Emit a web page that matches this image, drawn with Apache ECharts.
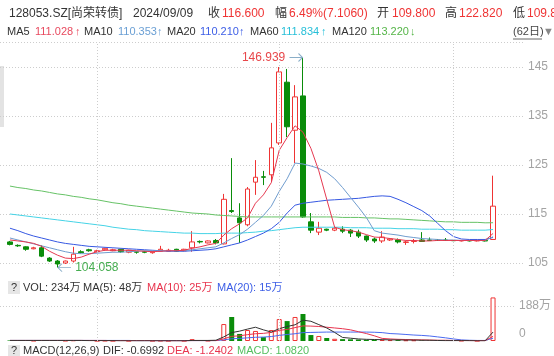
<!DOCTYPE html>
<html><head><meta charset="utf-8">
<script src="https://cdn.jsdelivr.net/npm/echarts/dist/echarts.min.js"></script>
<style>html,body{margin:0;padding:0;background:#fff}#c{width:554px;height:356px}</style>
</head><body><div id="c"></div>
<script>
const dates = [
'2024/06/14','2024/06/17','2024/06/18','2024/06/19','2024/06/20','2024/06/21','2024/06/24','2024/06/25','2024/06/26','2024/06/27','2024/06/28',
'2024/07/01','2024/07/02','2024/07/03','2024/07/04','2024/07/05','2024/07/08','2024/07/09','2024/07/10','2024/07/11','2024/07/12',
'2024/07/15','2024/07/16','2024/07/17','2024/07/18','2024/07/19','2024/07/22','2024/07/23','2024/07/24','2024/07/25','2024/07/26',
'2024/07/29','2024/07/30','2024/07/31',
'2024/08/01','2024/08/02','2024/08/05','2024/08/06','2024/08/07','2024/08/08','2024/08/09','2024/08/12','2024/08/13','2024/08/14',
'2024/08/15','2024/08/16','2024/08/19','2024/08/20','2024/08/21','2024/08/22','2024/08/23','2024/08/26','2024/08/27','2024/08/28',
'2024/08/29','2024/08/30',
'2024/09/02','2024/09/03','2024/09/04','2024/09/05','2024/09/06','2024/09/09'];
const opens  = [109.3,108.6,108.3,107.9,108.1,106.0,105.4,105.0,105.4,107.3,107.7,107.3,107.7,107.5,107.8,107.2,107.3,107.3,107.1,107.4,107.4,107.8,107.5,108.1,109.4,109.1,109.6,108.9,115.7,114.2,112.8,121.5,122.6,123.0,129.5,141.9,132.1,139.1,113.4,111.3,111.9,111.7,111.9,111.7,111.3,110.5,109.9,109.5,109.7,109.7,109.2,109.4,109.7,109.7,109.7,109.7,109.6,109.5,109.6,109.5,109.6,109.8];
const closes = [108.8,108.5,107.8,108.1,106.4,105.4,104.8,105.4,106.8,107.1,107.5,107.5,108.0,107.7,107.3,107.6,107.2,107.2,107.3,107.8,107.6,107.4,107.8,109.3,109.3,109.5,109.1,118.0,115.5,113.2,120.1,122.5,122.5,128.5,144.0,132.8,138.9,114.4,111.7,112.1,111.7,112.1,111.5,111.1,110.5,109.7,109.5,110.3,109.9,109.3,109.3,109.5,109.4,109.6,109.6,109.6,109.55,109.6,109.5,109.6,109.494,116.6];
const lows   = [108.6,108.3,107.5,107.8,106.2,105.2,104.058,104.8,105.1,106.9,107.3,107.2,107.5,107.4,107.1,107.0,106.9,107.0,106.9,107.3,107.3,107.3,107.4,107.3,109.0,109.0,108.8,108.8,115.2,109.1,112.5,118.9,120.9,121.5,129.1,130.7,125.4,114.2,111.1,110.7,111.5,111.5,111.1,110.3,110.1,109.3,109.1,109.1,109.5,109.0,108.7,109.0,109.3,109.5,109.5,109.5,109.5,109.4,109.4,109.4,109.4,109.8];
const highs  = [109.5,108.8,108.4,108.3,108.6,106.2,105.6,105.5,108.3,107.6,107.9,107.7,108.1,107.9,107.9,107.7,107.4,107.5,107.4,108.5,107.9,107.9,107.9,111.5,109.6,109.6,109.9,119.1,126.4,117.2,120.5,126.0,123.8,133.6,145.0,144.6,141.3,146.939,115.2,113.4,112.0,112.4,112.5,111.9,111.8,110.6,110.2,111.5,110.1,110.0,109.5,109.9,111.3,110.2,109.9,110.1,109.8,109.7,109.7,109.8,109.7,122.82];

const ma5   = [109.7,109.5,109.3,109.0,108.4,107.4,106.6,106.0,105.9,106.2,106.8,107.3,107.6,107.6,107.6,107.6,107.5,107.4,107.3,107.4,107.5,107.5,107.6,108.0,108.3,108.7,109.0,110.7,112.0,113.0,114.2,117.2,118.9,121.4,128.0,130.6,133.0,131.7,128.4,123.8,118.0,112.3,111.8,111.6,111.3,110.8,110.3,110.2,110.0,109.8,109.6,109.6,109.5,109.5,109.6,109.6,109.6,109.6,109.6,109.6,109.6,111.028];
const ma10  = [110.1,109.7,109.3,108.9,108.5,108.1,107.7,107.3,107.0,106.9,106.9,107.0,107.1,107.2,107.2,107.3,107.4,107.5,107.5,107.5,107.5,107.5,107.5,107.7,107.9,108.1,108.3,109.1,110.0,110.8,111.9,113.3,114.7,116.6,119.6,122.2,125.4,125.2,124.8,124.3,123.5,122.2,120.4,118.4,116.4,114.3,111.6,111.1,110.9,110.7,110.4,110.2,110.0,109.9,109.8,109.7,109.7,109.6,109.6,109.6,109.6,110.353];
const ma20  = [112.1,111.6,111.0,110.5,110.1,109.7,109.3,109.0,108.8,108.6,108.4,108.3,108.2,108.1,108.0,107.9,107.8,107.7,107.6,107.5,107.4,107.4,107.4,107.5,107.6,107.7,107.9,108.3,108.7,109.1,109.7,110.4,111.1,112.0,113.3,115.2,116.8,117.2,117.4,117.6,117.8,117.9,118.0,118.1,118.2,118.4,118.6,118.7,118.6,118.0,117.3,116.5,115.7,114.6,113.1,111.6,110.4,109.9,109.8,109.8,109.8,110.21];
const ma60  = [115.0,114.8,114.6,114.4,114.2,114.0,113.8,113.6,113.4,113.2,113.0,112.8,112.6,112.3,112.1,111.9,111.8,111.6,111.5,111.4,111.3,111.2,111.1,111.1,111.0,111.0,111.0,111.1,111.1,111.1,111.2,111.3,111.5,111.6,111.8,112.0,112.2,112.3,112.3,112.3,112.3,112.3,112.3,112.2,112.2,112.2,112.1,112.1,112.1,112.0,112.0,112.0,111.9,111.9,111.9,111.8,111.8,111.7,111.7,111.7,111.7,111.834];
const ma120 = [120.7,120.4,120.2,119.9,119.7,119.4,119.1,118.9,118.6,118.4,118.1,117.9,117.6,117.3,117.1,116.8,116.6,116.4,116.2,116.0,115.8,115.6,115.4,115.2,115.1,115.0,114.8,114.7,114.6,114.5,114.4,114.4,114.4,114.4,114.4,114.4,114.4,114.4,114.4,114.4,114.4,114.4,114.3,114.3,114.3,114.2,114.2,114.1,114.0,114.0,113.9,113.8,113.7,113.6,113.5,113.4,113.4,113.3,113.3,113.3,113.2,113.22];

// volumes in 万
const volumes = [3,2,2,2,4,3,4,2,4,2,1,1,2,1,1,1,1,1,1,2,1,1,1,10,2,2,3,91,129,38,59,54,21,59,118,107,129,145,32,27,16,12,10,9,8,7,6,6,5,5,4,4,3,2,2,2,1,2,1,1,1,234];
const volMa5  = [3,3,3,3,3,3,3,3,3,3,2,2,2,2,1,1,1,1,1,1,1,1,1,3,3,3,4,22,45,53,64,74,60,48,66,78,87,112,106,88,70,46,19,15,11,9,8,7,6,6,5,5,4,4,3,2,2,2,2,1,1,48];
const volMa10 = [3,3,3,3,3,3,3,3,3,3,3,3,3,2,2,2,2,2,2,1,1,1,1,2,2,2,2,12,25,28,34,39,41,46,57,62,72,81,80,78,74,70,66,60,50,40,28,14,11,9,8,7,6,5,4,4,3,3,2,2,2,25];
const volMa20 = [3,3,3,3,3,3,3,3,3,3,3,3,3,3,3,3,2,2,2,2,2,2,2,2,2,2,2,6,12,14,17,20,21,24,30,35,39,45,46,47,48,48,48,48,48,48,47,45,40,38,35,32,30,27,22,17,11,6,4,3,3,15];

const priceTicks = [105,115,125,135,145];
const volTicks = [0,188];
const gridMarks = [11,34,56];
const highMark = {idx:37, value:146.939};
const lowMark  = {idx:6,  value:104.058};

const RED='#ef3434', GREEN='#0a8c0a', GRIDC='#cdcdcd';
const FONT='"Liberation Sans","Noto Sans CJK SC",sans-serif';
const PMIN = 105 - 13/4.9, PMAX = 145 + 25/4.9;
const VMAX = 188*45/35;

const chart = echarts.init(document.getElementById('c'));
const candleData = dates.map((d,i)=>[opens[i],closes[i],lows[i],highs[i]]);
const volData = volumes.map((v,i)=>({value:v, itemStyle: closes[i]>=opens[i]
   ? {color:'#fff', borderColor:RED, borderWidth:1} : {color:GREEN}}));

function T(x,y,text,fill,size){return {type:'text',x:x,y:y,silent:true,style:{text:text,fill:fill,fontSize:size,fontFamily:FONT,verticalAlign:'middle',align:'left'}};}
const DARK='#333';
const graphics = [
  {type:'rect',shape:{x:0,y:66,width:4,height:61},style:{fill:'#e3e3e3'},silent:true},
  T(9,13.5,'128053.SZ[尚荣转债]',DARK,12),
  T(133,13.5,'2024/09/09',DARK,12),
  T(208,13.5,'收',DARK,12), T(222,13.5,'116.600',RED,12),
  T(275,13.5,'幅',DARK,12), T(289,13.5,'6.49%(7.1060)',RED,12),
  T(377,13.5,'开',DARK,12), T(392,13.5,'109.800',RED,12),
  T(445,13.5,'高',DARK,12), T(459,13.5,'122.820',RED,12),
  T(513,13.5,'低',DARK,12), T(527,13.5,'109.800',RED,12),
  T(7,32,'MA5',DARK,11), T(35,32,'111.028','#e84a5f',11), T(75,32,'↑','#e84a5f',11),
  T(84,32,'MA10',DARK,11), T(118,32,'110.353','#6a9fd4',11), T(157,32,'↑','#6a9fd4',11),
  T(167,32,'MA20',DARK,11), T(200,32,'110.210','#3d5ee6',11), T(239,32,'↑','#3d5ee6',11),
  T(250,32,'MA60',DARK,11), T(281,32,'111.834','#26bfd8',11), T(321,32,'↑','#26bfd8',11),
  T(332,32,'MA120',DARK,11), T(370,32,'113.220','#55b548',11), T(410,32,'↓','#55b548',11),
  T(513,32,'(62日)','#444',11),
  {type:'line',shape:{x1:513,y1:39,x2:542,y2:39},style:{stroke:'#666',lineWidth:1},silent:true},
  T(543,32,'▼','#888',11),
  {type:'rect',shape:{x:8,y:281,width:12,height:13},style:{fill:'#e6e6e6'},silent:true},
  T(11,287.5,'?',DARK,11),
  T(23,287.5,'VOL: 234万',DARK,11),
  T(83,287.5,'MA(5): 48万',DARK,11),
  T(147,287.5,'MA(10): 25万','#e8344e',11),
  T(217,287.5,'MA(20): 15万','#3d5ee6',11),
  {type:'rect',shape:{x:8,y:345,width:12,height:13},style:{fill:'#e6e6e6'},silent:true},
  T(11,351,'?',DARK,11),
  T(23,351,'MACD(12,26,9)',DARK,11),
  T(103,351,'DIF: -0.6992',DARK,11),
  T(167,351,'DEA: -1.2402','#e8344e',11),
  T(237,351,'MACD: 1.0820','#55c060',11)
];

const vLine = {silent:true, symbol:['none','none'], label:{show:false}, emphasis:{disabled:true},
  lineStyle:{color:GRIDC,type:[1,2],width:1}, data:gridMarks.map(i=>({xAxis:dates[i]}))};

function maLine(data,color,xi,yi){return {type:'line',xAxisIndex:xi,yAxisIndex:yi,data:data,symbol:'none',showSymbol:false,silent:true,z:3,lineStyle:{width:1,color:color},itemStyle:{color:color}};}

const option = {
  animation:false,
  textStyle:{fontFamily:FONT},
  graphic:graphics,
  grid:[
    {left:6,width:491,top:42,height:234},
    {left:0,width:523,top:42,height:234},
    {left:6,width:491,top:296,height:45},
    {left:0,width:523,top:296,height:45}
  ],
  xAxis:[
    {type:'category',gridIndex:0,data:dates,show:false},
    {type:'value',gridIndex:1,min:0,max:1,show:false},
    {type:'category',gridIndex:2,data:dates,show:false},
    {type:'value',gridIndex:3,min:0,max:1,show:false}
  ],
  yAxis:[
    {type:'value',gridIndex:0,min:PMIN,max:PMAX,show:false,splitLine:{show:false}},
    {type:'value',gridIndex:1,min:PMIN,max:PMAX,position:'right',axisLine:{show:false},
      axisTick:{show:false,customValues:priceTicks.concat([PMAX])},
      axisLabel:{customValues:priceTicks,color:'#a3a3a3',fontSize:12,margin:5,fontFamily:FONT},
      splitLine:{show:true,lineStyle:{color:GRIDC,type:[1,2],width:1}}},
    {type:'value',gridIndex:2,min:0,max:VMAX,show:false,splitLine:{show:false}},
    {type:'value',gridIndex:3,min:0,max:VMAX,position:'right',axisLine:{show:false},
      axisTick:{show:false,customValues:[188]},
      axisLabel:{customValues:volTicks,color:'#a3a3a3',fontSize:12,margin:5,fontFamily:FONT,
        formatter:v=> v===0 ? '{z|0}' : v+'万', rich:{z:{padding:[0,0,14,0],color:'#a3a3a3',fontSize:12}}},
      splitLine:{show:true,lineStyle:{color:GRIDC,type:[1,2],width:1}}}
  ],
  series:[
    {type:'line',xAxisIndex:0,yAxisIndex:0,data:[],z:1,markLine:vLine},
    {type:'line',xAxisIndex:2,yAxisIndex:2,data:[],z:1,markLine:vLine},
    {type:'candlestick',xAxisIndex:0,yAxisIndex:0,data:candleData,barWidth:5,z:2,silent:true,
      itemStyle:{color:'#fff',color0:GREEN,borderColor:RED,borderColor0:GREEN,borderWidth:1},
      markPoint:{silent:true,animation:false,data:[
        {coord:[dates[highMark.idx],highMark.value],symbol:'path://M0,4L13,4M9,0L13,4L9,8',symbolSize:[13,8],symbolOffset:[-7,0],
          itemStyle:{color:'none',borderColor:'#8aaec8',borderWidth:1},
          label:{show:true,position:'left',distance:1,formatter:String(highMark.value),color:'#e8474a',fontSize:12,fontFamily:FONT}},
        {coord:[dates[lowMark.idx],lowMark.value],symbol:'path://M13,4L0,4M4,0L0,4L4,8',symbolSize:[13,8],symbolOffset:[7,0],
          itemStyle:{color:'none',borderColor:'#8aaec8',borderWidth:1},
          label:{show:true,position:'right',distance:1,formatter:String(lowMark.value),color:'#45ad50',fontSize:12,fontFamily:FONT}}
      ]}},
    maLine(ma120,'#66c266',0,0),
    maLine(ma60,'#45d3e6',0,0),
    maLine(ma20,'#3658e2',0,0),
    maLine(ma10,'#6f9cce',0,0),
    maLine(ma5,'#e53950',0,0),
    {type:'bar',xAxisIndex:2,yAxisIndex:2,data:volData,barWidth:5,silent:true,z:2},
    maLine(volMa20,'#4a6af0',2,2),
    maLine(volMa10,'#e8344e',2,2),
    maLine(volMa5,'#333333',2,2)
  ]
};
chart.setOption(option);
</script></body></html>
